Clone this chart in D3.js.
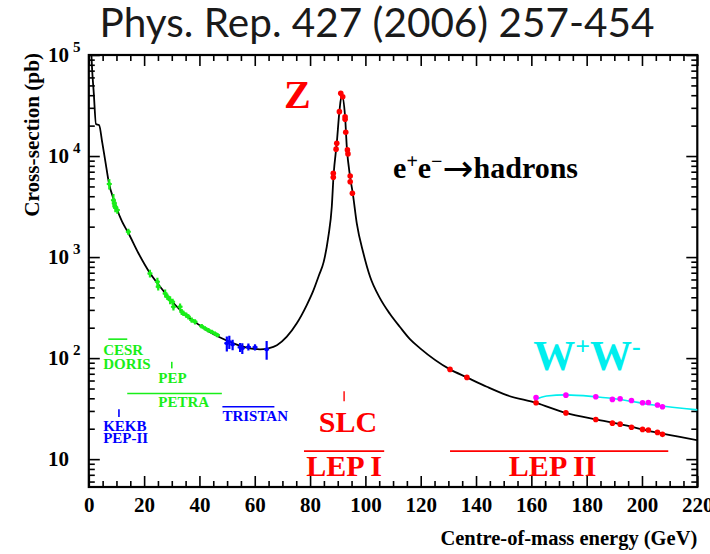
<!DOCTYPE html>
<html>
<head>
<meta charset="utf-8">
<script src="https://cdn.jsdelivr.net/npm/d3@7"></script>
<style>
  html, body { margin: 0; padding: 0; background: #fff; }
  svg { display: block; }
  .serif { font-family: "Liberation Serif", "Times New Roman", serif; font-weight: bold; }
</style>
</head>
<body>
<svg id="chart" width="710" height="554"></svg>
<script>
// ---- data (energy in GeV, cross-section in pb) ----
// e+e- -> hadrons prediction
const curveEnergy = [0.75, 1.2, 1.8, 2.6, 3.7, 4.9, 6.1, 7.3, 9.1, 10.3, 12.0, 14.3, 17.9, 22.1, 25.8,
  30.6, 34.2, 39.0, 42.6, 47.5, 52.3, 58.3, 61.9, 64.9, 68.0, 71.6, 75.2, 78.8, 81.1, 83.25, 84.9, 86.6,
  87.85, 88.5, 89.65, 90.6, 91.45, 92.66, 93.27, 94.47, 95.44, 96.89, 99.28, 101.7, 105.3, 108.9,
  112.5, 116.1, 119.8, 130.6, 136.7, 143.9, 151.1, 161.7, 172.5, 183.3, 192.1, 204.2, 213.7, 220.9];
const curveSigma = [130000, 72000, 42000, 20700, 20300, 13400, 8470, 5370, 3660, 2920, 2250, 1730, 1097, 695, 508,
  351, 279, 222, 189, 160, 140, 125, 122, 125, 134, 163, 221, 335, 460, 664, 891, 1590,
  3150, 6490, 13400, 27500, 40200, 24500, 12400, 6240, 4280, 2160, 1090, 638, 390, 273,
  203, 154, 125, 77.3, 64.4, 52.0, 43.0, 36.1, 28.7, 24.7, 22.2, 18.6, 16.6, 15.2];

// e+e- -> hadrons including W+W- above threshold
const wwCurveEnergy = [161.0, 165.5, 172.5, 183.3, 192.1, 204.2, 220.9];
const wwCurveSigma = [38.4, 42.1, 43.3, 41.4, 39.0, 34.3, 30.6];

// low-energy measurements (CESR, DORIS, PEP, PETRA)
const greenEnergy = [7.4, 8.9, 9.2, 9.6, 10.3, 14.3, 22.1, 24.8, 25.1, 27.6, 28.4, 29.4, 30.3, 30.6,
  33.0, 33.6, 34.2, 35.2, 36.0, 37.2, 38.4, 40.8, 42.0, 43.2, 44.4, 45.6, 46.5];
const greenSigma = [5290, 3660, 3400, 3150, 2920, 1780, 689, 569, 508, 437, 404, 375, 361, 322,
  322, 287, 277, 267, 257, 238, 229, 207, 197, 189, 182, 175, 169];
const greenRelErr = [0.12, 0.15, 0.12, 0.12, 0.08, 0.07, 0.09, 0.10, 0.08, 0.09, 0.07, 0.09, 0.07, 0.08,
  0.08, 0.07, 0.06, 0.06, 0.06, 0.06, 0.06, 0.05, 0.05, 0.05, 0.05, 0.05, 0.05];

// TRISTAN measurements
const blueEnergy = [49.9, 50.8, 52.0, 54.7, 55.5, 57.7, 60.1, 64.3];
const blueSigma = [140, 145, 136, 128, 125, 129, 128, 122];
const blueRelErr = [0.17, 0.15, 0.12, 0.10, 0.12, 0.08, 0.07, 0.21];

// LEP I / SLC measurements at the Z pole
const zEnergy = [88.4, 88.4, 89.4, 89.65, 90.6, 91.1, 91.8, 92.66, 92.66, 92.9, 93.5, 93.7, 94.5, 94.5, 95.3];
const zSigma = [6740, 6150, 11700, 13400, 27500, 41800, 38600, 24500, 23100, 17200, 11500, 10500, 6340, 5570, 4280];

// LEP II hadronic measurements
const lep2Energy = [130.6, 136.7, 161.7, 172.5, 183.3, 189.3, 192.1, 196.2, 200.2, 202.3, 205.6, 207.4];
const lep2Sigma = [77.3, 64.4, 36.1, 28.7, 24.7, 22.7, 22.2, 20.7, 19.7, 19.4, 18.4, 17.6];

// LEP II hadronic + W+W- measurements
const wwEnergy = [161.7, 172.5, 183.3, 189.3, 192.1, 196.2, 200.2, 202.3, 205.6, 207.4];
const wwSigma = [40.8, 43.0, 41.4, 39.0, 39.6, 38.1, 36.1, 36.4, 34.4, 33.0];

// axis ticks
const xTicks = [0, 20, 40, 60, 80, 100, 120, 140, 160, 180, 200, 220];
const yTicks = [10, 100, 1000, 10000, 100000];
const yTickExponents = ["", "2", "3", "4", "5"];

// ---- layout ----
const GREEN = "#19ee19", BLUE = "#0000ff", RED = "#ff0000", CYAN = "#00eeee", MAGENTA = "#ff00ff";
const X0 = 88.8, X1 = 697.3, Y0 = 55, Y1 = 487;

const x = d3.scaleLinear().domain([0, 220]).range([X0, X1]);
const y = d3.scaleLog().domain([5.3, 1e5]).range([Y1, Y0]);

const svg = d3.select("#chart");
svg.append("rect").attr("width", 710).attr("height", 554).attr("fill", "#fff");

svg.append("defs").append("clipPath").attr("id", "frameClip")
  .append("rect").attr("x", X0).attr("y", Y0).attr("width", X1 - X0).attr("height", Y1 - Y0);

// title
const title = svg.append("text")
  .attr("x", 377).attr("y", 37)
  .attr("text-anchor", "middle")
  .style("font-family", "Lato, 'Open Sans', sans-serif")
  .style("font-size", "36px")
  .attr("fill", "#1a1a1a")
  .text("Phys. Rep. 427 (2006) 257-454");
{
  const w = title.node().getComputedTextLength();
  title.style("font-size", (36 * 555 / w) + "px");
}

// ---- axes ----
const xMinor = d3.range(0, 221, 5).filter(v => v % 20 !== 0);
const yMinor = [6, 7, 8, 9];
for (let d = 1; d <= 4; d++) for (let k = 2; k <= 9; k++) yMinor.push(k * Math.pow(10, d));

function styleAxis(g) {
  g.selectAll("path").remove();
  g.selectAll("line").attr("stroke", "#000").attr("stroke-width", 1.6);
}

// bottom
const gxb = svg.append("g").attr("transform", `translate(0,${Y1})`)
  .call(d3.axisBottom(x).tickValues(xTicks).tickSizeInner(-11).tickSizeOuter(0).tickPadding(10)
    .tickFormat(d3.format("d")));
styleAxis(gxb);
gxb.selectAll("text").attr("class", "serif").style("font-size", "21px").attr("fill", "#000");
svg.append("g").attr("transform", `translate(0,${Y1})`)
  .call(d3.axisBottom(x).tickValues(xMinor).tickSizeInner(-6).tickSizeOuter(0).tickFormat(""))
  .call(styleAxis);
// top
svg.append("g").attr("transform", `translate(0,${Y0})`)
  .call(d3.axisTop(x).tickValues(xTicks).tickSizeInner(-11).tickSizeOuter(0).tickFormat(""))
  .call(styleAxis);
svg.append("g").attr("transform", `translate(0,${Y0})`)
  .call(d3.axisTop(x).tickValues(xMinor).tickSizeInner(-6).tickSizeOuter(0).tickFormat(""))
  .call(styleAxis);
// left
svg.append("g").attr("transform", `translate(${X0},0)`)
  .call(d3.axisLeft(y).tickValues(yTicks).tickSizeInner(-11).tickSizeOuter(0).tickFormat(""))
  .call(styleAxis);
svg.append("g").attr("transform", `translate(${X0},0)`)
  .call(d3.axisLeft(y).tickValues(yMinor).tickSizeInner(-6).tickSizeOuter(0).tickFormat(""))
  .call(styleAxis);
// right
svg.append("g").attr("transform", `translate(${X1},0)`)
  .call(d3.axisRight(y).tickValues(yTicks).tickSizeInner(-11).tickSizeOuter(0).tickFormat(""))
  .call(styleAxis);
svg.append("g").attr("transform", `translate(${X1},0)`)
  .call(d3.axisRight(y).tickValues(yMinor).tickSizeInner(-6).tickSizeOuter(0).tickFormat(""))
  .call(styleAxis);

// frame
svg.append("rect").attr("x", X0).attr("y", Y0).attr("width", X1 - X0).attr("height", Y1 - Y0)
  .attr("fill", "none").attr("stroke", "#000").attr("stroke-width", 2.2);

// y tick labels 10^n
yTicks.forEach((v, i) => {
  svg.append("text").attr("class", "serif")
    .attr("x", 69).attr("y", y(v) + 7).attr("text-anchor", "end")
    .style("font-size", "21px").attr("fill", "#000").text("10");
  if (yTickExponents[i]) {
    svg.append("text").attr("class", "serif")
      .attr("x", 73).attr("y", y(v) - 3)
      .style("font-size", "15px").attr("fill", "#000").text(yTickExponents[i]);
  }
});

// axis titles
svg.append("text").attr("class", "serif")
  .attr("transform", `translate(39,${Y0 - 2}) rotate(-90)`)
  .attr("text-anchor", "end").style("font-size", "21.2px").attr("fill", "#000")
  .text("Cross-section (pb)");
svg.append("text").attr("class", "serif")
  .attr("x", X1).attr("y", 545).attr("text-anchor", "end")
  .style("font-size", "20.5px").attr("fill", "#000")
  .text("Centre-of-mass energy (GeV)");

// ---- curves ----
const plot = svg.append("g").attr("clip-path", "url(#frameClip)");
const line = d3.line().x(d => x(d[0])).y(d => y(d[1])).curve(d3.curveMonotoneX);

plot.append("path").datum(d3.zip(wwCurveEnergy, wwCurveSigma))
  .attr("d", line).attr("fill", "none").attr("stroke", CYAN).attr("stroke-width", 1.6);
plot.append("path").datum(d3.zip(curveEnergy, curveSigma))
  .attr("d", line).attr("fill", "none").attr("stroke", "#000").attr("stroke-width", 1.8);

// ---- measurements with error bars ----
function errorPoints(E, S, R, color) {
  const g = plot.append("g");
  const pts = d3.zip(E, S, R);
  g.selectAll("line.bar").data(pts).join("line").attr("class", "bar")
    .attr("x1", d => x(d[0])).attr("x2", d => x(d[0]))
    .attr("y1", d => y(d[1] * (1 + d[2]))).attr("y2", d => y(d[1] * (1 - d[2])))
    .attr("stroke", color).attr("stroke-width", 2.2);
  g.selectAll("line.cap").data(pts).join("line").attr("class", "cap")
    .attr("x1", d => x(d[0]) - 2.5).attr("x2", d => x(d[0]) + 2.5)
    .attr("y1", d => y(d[1])).attr("y2", d => y(d[1]))
    .attr("stroke", color).attr("stroke-width", 2);
  g.selectAll("circle").data(pts).join("circle")
    .attr("cx", d => x(d[0])).attr("cy", d => y(d[1])).attr("r", 1.9).attr("fill", color);
}
errorPoints(greenEnergy, greenSigma, greenRelErr, GREEN);
errorPoints(blueEnergy, blueSigma, blueRelErr, BLUE);

function dots(E, S, color) {
  plot.append("g").selectAll("circle").data(d3.zip(E, S)).join("circle")
    .attr("cx", d => x(d[0])).attr("cy", d => y(d[1])).attr("r", 2.8).attr("fill", color);
}
dots(zEnergy, zSigma, RED);
dots(lep2Energy, lep2Sigma, RED);
dots(wwEnergy, wwSigma, MAGENTA);

// ---- facility annotations ----
const ann = svg.append("g");
function hline(e1, e2, s, color, w) {
  ann.append("line").attr("x1", x(e1)).attr("x2", x(e2)).attr("y1", y(s)).attr("y2", y(s))
    .attr("stroke", color).attr("stroke-width", w);
}
function vline(e, s1, s2, color, w) {
  ann.append("line").attr("x1", x(e)).attr("x2", x(e)).attr("y1", y(s1)).attr("y2", y(s2))
    .attr("stroke", color).attr("stroke-width", w);
}
function label(txt, e, s, color, size, anchor) {
  return ann.append("text").attr("class", "serif")
    .attr("x", x(e)).attr("y", y(s)).attr("text-anchor", anchor || "start")
    .style("font-size", size + "px").attr("fill", color).text(txt);
}

hline(7.05, 13.9, 154, GREEN, 1.6);
label("CESR", 5.2, 107, GREEN, 15);
label("DORIS", 5.2, 77.3, GREEN, 15);
vline(30.0, 79.1, 91.9, GREEN, 1.6);
label("PEP", 25.1, 56.2, GREEN, 15);
hline(13.9, 48.1, 44.7, GREEN, 1.6);
label("PETRA", 25.1, 32.5, GREEN, 15);
hline(48.3, 67.1, 33.0, BLUE, 1.6);
label("TRISTAN", 48.3, 23.8, BLUE, 15);
vline(10.9, 26.2, 31.1, BLUE, 1.6);
label("KEKB", 5.2, 18.9, BLUE, 15);
label("PEP-II", 5.2, 14.3, BLUE, 15);

vline(92.3, 37.5, 47.1, RED, 1.4);
label("SLC", 93.7, 18.5, RED, 30, "middle");
hline(77.8, 106.8, 12.0, RED, 1.8);
label("LEP I", 92.3, 6.79, RED, 30, "middle");
hline(130.6, 209.5, 12.0, RED, 1.8);
label("LEP II", 167.7, 6.79, RED, 30, "middle");

// process labels
label("Z", 70.6, 29900, RED, 40);

const had = label("", 110.0, 6060, "#000", 30);
had.append("tspan").text("e");
had.append("tspan").attr("dy", -10).style("font-size", "20px").text("+");
had.append("tspan").attr("dy", 10).text("e");
had.append("tspan").attr("dy", -10).style("font-size", "20px").text("\u2212");
had.append("tspan").attr("dy", 13).style("font-family", "'DejaVu Sans', sans-serif")
  .style("font-weight", "normal").style("font-size", "37px").text("\u2192");
had.append("tspan").attr("dy", -3).text("hadrons");

const ww = label("", 160.7, 76.1, CYAN, 42);
ww.append("tspan").text("W");
ww.append("tspan").attr("dy", -15).style("font-size", "26px").text("+");
ww.append("tspan").attr("dy", 15).text("W");
ww.append("tspan").attr("dy", -15).style("font-size", "26px").text("-");
</script>
</body>
</html>
